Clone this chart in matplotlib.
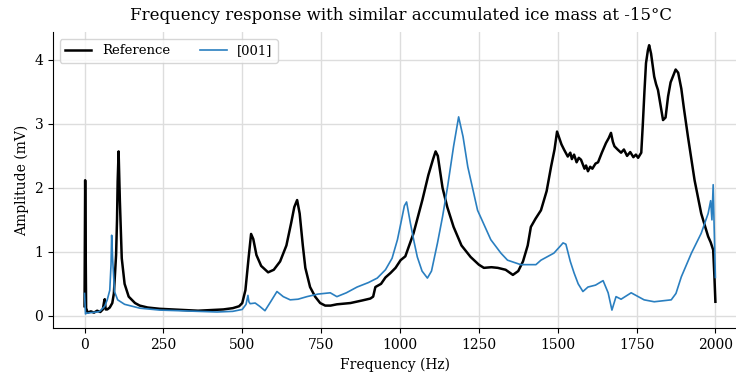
import numpy as np
import matplotlib
matplotlib.use('Agg')
import matplotlib.pyplot as plt

plt.rcParams['font.family'] = 'DejaVu Serif'

# Reference spectrum (Hz, mV)
ref_freq = [0, 2, 5, 10, 20, 30, 40, 50, 58, 62,
            64, 67, 72, 80, 88, 93, 97, 100, 103, 105,
            108, 112, 118, 127, 140, 160, 175, 200, 238, 280,
            320, 360, 400, 440, 470, 490, 500, 510, 520, 528,
            535, 545, 560, 582, 600, 620, 640, 655, 665, 674,
            682, 692, 700, 715, 731, 747, 763, 780, 800, 843,
            880, 906, 915, 922, 940, 954, 970, 986, 1002, 1017,
            1043, 1071, 1090, 1105, 1113, 1120, 1135, 1150, 1170, 1195,
            1224, 1250, 1266, 1290, 1310, 1335, 1358, 1375, 1390, 1405,
            1415, 1430, 1447, 1465, 1479, 1490, 1498, 1505, 1512, 1520,
            1532, 1540, 1545, 1552, 1560, 1567, 1574, 1585, 1590, 1596,
            1603, 1610, 1620, 1628, 1640, 1653, 1662, 1669, 1675, 1680,
            1690, 1701, 1710, 1720, 1730, 1740, 1748, 1755, 1765, 1770,
            1775, 1780, 1786, 1790, 1796, 1806, 1812, 1818, 1826, 1834,
            1842, 1850, 1858, 1866, 1874, 1882, 1892, 1900, 1913, 1934,
            1955, 1977, 1985, 1993, 1997, 2000]
ref_amp = [0.15, 2.12, 0.12, 0.05, 0.07, 0.05, 0.08, 0.06, 0.1, 0.22,
           0.26, 0.1, 0.1, 0.13, 0.2, 0.35, 0.7, 0.95, 1.5, 2.1,
           2.57, 1.8, 0.9, 0.5, 0.3, 0.2, 0.16, 0.13, 0.11, 0.1,
           0.09, 0.08, 0.09, 0.1, 0.12, 0.15, 0.2, 0.4, 0.9, 1.28,
           1.2, 0.95, 0.78, 0.68, 0.72, 0.85, 1.1, 1.45, 1.7, 1.81,
           1.6, 1.1, 0.75, 0.45, 0.3, 0.2, 0.16, 0.16, 0.18, 0.2,
           0.24, 0.27, 0.3, 0.45, 0.5, 0.6, 0.67, 0.75, 0.87, 0.93,
           1.29, 1.81, 2.2, 2.45, 2.57, 2.5, 2.0, 1.7, 1.39, 1.1,
           0.92, 0.8, 0.75, 0.76, 0.75, 0.72, 0.64, 0.7, 0.85, 1.1,
           1.39, 1.52, 1.65, 1.95, 2.33, 2.6, 2.88, 2.78, 2.68, 2.6,
           2.49, 2.55, 2.45, 2.52, 2.4, 2.47, 2.44, 2.3, 2.35, 2.26,
           2.33, 2.3, 2.38, 2.4, 2.55, 2.7, 2.78, 2.86, 2.72, 2.65,
           2.6, 2.55, 2.6, 2.5, 2.56, 2.48, 2.52, 2.47, 2.55, 3.0,
           3.5, 3.95, 4.15, 4.23, 4.1, 3.74, 3.62, 3.53, 3.3, 3.06,
           3.1, 3.43, 3.65, 3.75, 3.85, 3.8, 3.55, 3.25, 2.8, 2.12,
           1.6, 1.24, 1.15, 1.03, 0.6, 0.22]

# [001] spectrum (Hz, mV)
s001_freq = [0, 3, 6, 20, 40, 48, 64, 72, 80, 84,
             86, 89, 95, 105, 127, 175, 238, 300, 360, 420,
             470, 500, 512, 518, 521, 525, 541, 555, 572, 590,
             610, 630, 652, 677, 705, 740, 779, 800, 830, 864,
             900, 928, 954, 975, 992, 1005, 1014, 1021, 1033, 1045,
             1055, 1070, 1087, 1100, 1119, 1135, 1151, 1170, 1186, 1200,
             1215, 1246, 1288, 1320, 1341, 1383, 1431, 1447, 1488, 1510,
             1517, 1526, 1540, 1552, 1565, 1580, 1596, 1620, 1637, 1644,
             1660, 1672, 1685, 1701, 1733, 1774, 1806, 1860, 1875, 1892,
             1924, 1955, 1977, 1985, 1989, 1993, 1996, 2000]
s001_amp = [0.35, 0.03, 0.04, 0.05, 0.06, 0.07, 0.15, 0.25, 0.4, 0.8,
            1.26, 0.9, 0.38, 0.25, 0.18, 0.12, 0.09, 0.08, 0.07, 0.06,
            0.07, 0.1, 0.18, 0.32, 0.22, 0.19, 0.2, 0.15, 0.08, 0.22,
            0.38, 0.3, 0.25, 0.26, 0.3, 0.34, 0.36, 0.3, 0.36, 0.45,
            0.52, 0.59, 0.72, 0.9, 1.19, 1.5, 1.72, 1.78, 1.45, 1.15,
            0.92, 0.7, 0.59, 0.7, 1.14, 1.55, 2.02, 2.65, 3.11, 2.8,
            2.33, 1.65, 1.19, 0.98, 0.87, 0.8, 0.8, 0.87, 0.98, 1.1,
            1.14, 1.12, 0.85, 0.67, 0.5, 0.38, 0.45, 0.48, 0.53, 0.55,
            0.36, 0.09, 0.3, 0.26, 0.36, 0.25, 0.22, 0.25, 0.35, 0.61,
            0.98, 1.29, 1.6, 1.8, 1.5, 2.05, 1.4, 0.6]

fig = plt.figure(figsize=(7.36, 3.77), dpi=100)
ax = fig.add_axes([0.072, 0.13, 0.93, 0.784])

ax.plot(ref_freq, ref_amp, color='black', lw=1.8, label='Reference')
ax.plot(s001_freq, s001_amp, color='#2a7fc0', lw=1.2, label='[001]')

ax.set_xlim(-100, 2070)
ax.set_ylim(-0.19, 4.43)
ax.set_xticks([0, 250, 500, 750, 1000, 1250, 1500, 1750, 2000])
ax.set_yticks([0, 1, 2, 3, 4])
ax.grid(True, color='#dddddd', lw=1)
ax.set_axisbelow(True)
for s in ['top', 'right']:
    ax.spines[s].set_visible(False)
ax.tick_params(labelsize=10)

ax.set_xlabel('Frequency (Hz)', fontsize=10)
ax.set_ylabel('Amplitude (mV)', fontsize=10)
ax.set_title('Frequency response with similar accumulated ice mass at -15°C',
             fontsize=12, x=0.509, pad=9)
ax.legend(loc='upper left', ncol=2, fontsize=9.5, frameon=True, columnspacing=2.3)

plt.savefig('out.png', dpi=100)
